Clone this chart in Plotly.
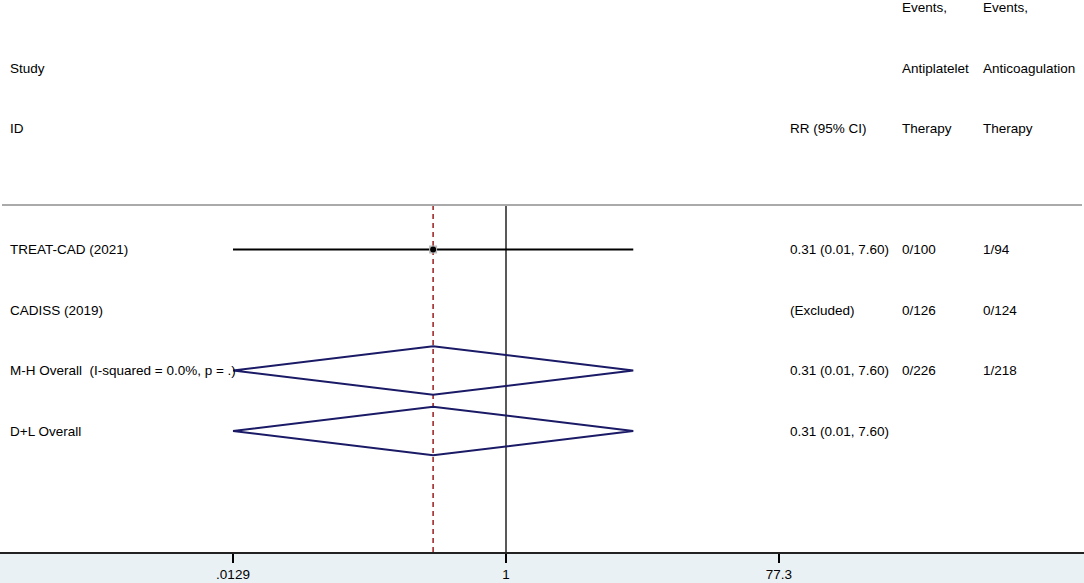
import plotly.graph_objects as go

# ---- data ----
studies = ["TREAT-CAD (2021)", "CADISS (2019)", "M-H Overall  (I-squared = 0.0%, p = .)", "D+L Overall"]
row_y = [4, 3, 2, 1]
rr = [0.313, None, 0.313, 0.313]
ci_lo = [0.0129, None, 0.0129, 0.0129]
ci_hi = [7.60, None, 7.60, 7.60]
rr_text = ["0.31 (0.01, 7.60)", "(Excluded)", "0.31 (0.01, 7.60)", "0.31 (0.01, 7.60)"]
events_antiplatelet = ["0/100", "0/126", "0/226", ""]
events_anticoag = ["1/94", "0/124", "1/218", ""]
overall_rr = 0.313
tick_vals = [0.0129, 1, 77.3]
tick_text = [".0129", "1", "77.3"]

header_rows = [8, 7, 6]
header_left = ["", "Study", "ID"]
header_rr = ["", "", "RR (95% CI)"]
header_ap = ["Events,", "Antiplatelet", "Therapy"]
header_ac = ["Events,", "Anticoagulation", "Therapy"]

W, H = 1084, 583
FONT = "Liberation Sans, Arial, Helvetica, sans-serif"
FS = 13.5
top_line_y = 4.736
y_bottom = -1.0
y_top = 8.124
diamond_h = 0.4

fig = go.Figure()

# vertical null line at 1
fig.add_trace(go.Scatter(x=[1, 1], y=[y_bottom, top_line_y], mode="lines",
                         line=dict(color="#222222", width=1.5), hoverinfo="skip", showlegend=False))
# dashed overall line
fig.add_trace(go.Scatter(x=[overall_rr, overall_rr], y=[y_bottom, top_line_y], mode="lines",
                         line=dict(color="#9B1C1C", width=1.5, dash="5px,4px"), hoverinfo="skip", showlegend=False))

# study CI line + point
for i in [0]:
    fig.add_trace(go.Scatter(x=[ci_lo[i], ci_hi[i]], y=[row_y[i], row_y[i]], mode="lines",
                             line=dict(color="black", width=2), hoverinfo="skip", showlegend=False))
    fig.add_trace(go.Scatter(x=[rr[i]], y=[row_y[i]], mode="markers",
                             marker=dict(symbol="square", size=8, color="#BBBBBB", line=dict(width=0)),
                             hoverinfo="skip", showlegend=False))
    fig.add_trace(go.Scatter(x=[rr[i]], y=[row_y[i]], mode="markers",
                             marker=dict(symbol="circle", size=6, color="black"),
                             hoverinfo="skip", showlegend=False))

# diamonds
for i in [2, 3]:
    yc = row_y[i]
    fig.add_trace(go.Scatter(
        x=[ci_lo[i], rr[i], ci_hi[i], rr[i], ci_lo[i]],
        y=[yc, yc + diamond_h, yc, yc - diamond_h, yc],
        mode="lines", line=dict(color="#1A1A66", width=2),
        hoverinfo="skip", showlegend=False))

# top gray separator
fig.add_shape(type="line", xref="paper", yref="y", x0=2 / W, x1=1082 / W,
              y0=top_line_y, y1=top_line_y, line=dict(color="#AAAAAA", width=2))

annots = []
def txt(px, y, s):
    if s:
        annots.append(dict(x=px / W, xref="paper", y=y, yref="y", text=s, showarrow=False,
                           xanchor="left", yanchor="middle",
                           font=dict(family=FONT, size=FS, color="black")))

for j, yv in enumerate(header_rows):
    txt(8, yv, header_left[j])
    txt(788, yv, header_rr[j])
    txt(900, yv, header_ap[j])
    txt(981, yv, header_ac[j])

for i, yv in enumerate(row_y):
    txt(8, yv, studies[i])
    txt(788, yv, rr_text[i])
    txt(900, yv, events_antiplatelet[i])
    txt(981, yv, events_anticoag[i])

px_per_dec = 144.49
x0 = -506 / px_per_dec
x1 = (W - 506) / px_per_dec

fig.update_layout(
    width=W, height=H,
    margin=dict(l=0, r=0, t=0, b=31),
    paper_bgcolor="#EAF1F4",
    plot_bgcolor="white",
    annotations=annots,
    showlegend=False,
    xaxis=dict(type="log", range=[x0, x1], tickvals=tick_vals, ticktext=tick_text,
               ticks="outside", ticklen=9, tickwidth=1.5, tickcolor="black",
               showline=True, linecolor="#222222", linewidth=2, showgrid=False, zeroline=False,
               tickfont=dict(family=FONT, size=FS, color="black"), fixedrange=True),
    yaxis=dict(range=[y_bottom, y_top], showticklabels=False, showgrid=False, zeroline=False,
               showline=False, ticks="", fixedrange=True),
)

fig.write_html("out.html", config={"displayModeBar": False},
               post_script="document.body.style.margin='0';document.body.style.padding='0';")
